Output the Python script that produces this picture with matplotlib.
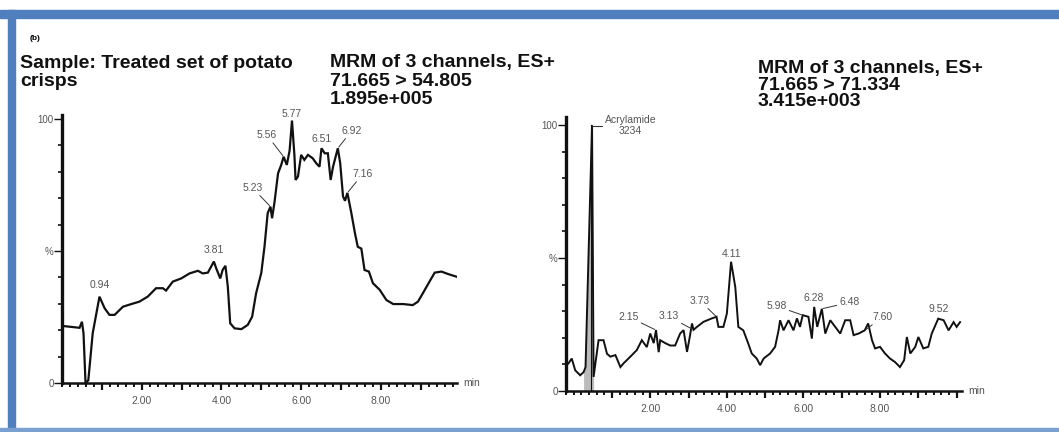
import matplotlib.pyplot as plt
from matplotlib.patches import Rectangle
from matplotlib.ticker import FixedLocator, MultipleLocator, NullFormatter

plt.rcParams['font.family'] = ['Liberation Sans', 'DejaVu Sans']

# channel 71.665 > 54.805 (retention time in min, relative intensity in %)
rt_a = [0.02, 0.44, 0.50, 0.54, 0.59, 0.66, 0.77, 0.94, 1.07, 1.19, 1.32, 1.53,
        1.74, 1.94, 2.15, 2.36, 2.53, 2.61, 2.78, 2.99, 3.20, 3.41, 3.53, 3.66,
        3.81, 3.87, 3.97, 4.03, 4.10, 4.16, 4.22, 4.33, 4.50, 4.66, 4.77, 4.87,
        5.00, 5.08, 5.16, 5.23, 5.27, 5.33, 5.42, 5.50, 5.56, 5.64, 5.71, 5.77,
        5.83, 5.86, 5.92, 6.00, 6.08, 6.17, 6.29, 6.38, 6.46, 6.51, 6.59, 6.67,
        6.74, 6.80, 6.92, 6.98, 7.05, 7.10, 7.16, 7.26, 7.35, 7.42, 7.51, 7.59,
        7.70, 7.80, 7.97, 8.14, 8.31, 8.56, 8.80, 8.93, 9.05, 9.22, 9.35, 9.52,
        9.68, 9.89]
int_a = [21.6, 20.9, 23.2, 18.8, 0.0, 1.0, 18.8, 32.7, 28.3, 25.8, 25.8, 28.9,
         29.9, 30.8, 32.7, 35.9, 35.9, 35.0, 38.4, 39.6, 41.5, 42.5, 41.5, 41.8,
         46.0, 43.4, 39.6, 42.8, 44.4, 36.5, 22.6, 20.7, 20.4, 22.0, 25.1, 34.0,
         41.7, 51.6, 64.3, 66.8, 62.4, 68.3, 79.4, 82.6, 85.7, 82.6, 88.0, 99.4,
         86.5, 76.9, 78.2, 86.4, 84.5, 86.4, 85.1, 83.2, 81.9, 88.9, 87.0, 87.0,
         76.9, 81.9, 88.9, 83.2, 70.7, 69.0, 72.0, 64.3, 56.7, 51.6, 50.9, 42.8,
         42.2, 37.8, 35.3, 31.4, 29.9, 29.9, 29.5, 30.8, 33.9, 38.4, 41.8, 42.2,
         41.3, 40.3]
peaks_a = [0.94, 3.81, 5.23, 5.56, 5.77, 6.51, 6.92, 7.16]

# channel 71.665 > 71.334
rt_b = [-0.14, -0.05, 0.04, 0.17, 0.26, 0.31, 0.48, 0.52, 0.65, 0.78, 0.87,
        0.96, 1.09, 1.22, 1.31, 1.48, 1.65, 1.78, 1.91, 2.00, 2.09, 2.15, 2.22,
        2.26, 2.39, 2.52, 2.65, 2.78, 2.87, 2.96, 3.04, 3.09, 3.13, 3.22, 3.39,
        3.61, 3.73, 3.78, 3.91, 4.00, 4.11, 4.22, 4.30, 4.43, 4.56, 4.65, 4.78,
        4.87, 4.96, 5.13, 5.26, 5.35, 5.39, 5.48, 5.61, 5.74, 5.83, 5.91, 5.98,
        6.13, 6.22, 6.28, 6.36, 6.48, 6.57, 6.70, 6.83, 6.96, 7.09, 7.22, 7.31,
        7.44, 7.60, 7.69, 7.79, 7.87, 8.00, 8.13, 8.26, 8.39, 8.52, 8.63, 8.70,
        8.79, 8.92, 9.00, 9.13, 9.26, 9.35, 9.52, 9.66, 9.79, 9.92, 10.00, 10.09]
int_b = [10.3, 12.2, 7.8, 5.9, 7.1, 9.0, 100.0, 5.3, 19.1, 19.1, 14.0, 12.9,
         13.5, 9.0, 10.5, 12.9, 15.4, 19.1, 16.5, 21.6, 18.0, 22.9, 14.6, 19.1,
         18.0, 17.1, 17.1, 21.6, 22.9, 14.7, 21.0, 25.4, 23.0, 24.1, 26.0, 27.3,
         27.9, 24.1, 24.1, 29.1, 48.6, 39.1, 24.1, 22.8, 17.8, 14.1, 12.2, 9.7,
         12.2, 14.1, 16.6, 22.8, 26.6, 22.8, 26.6, 22.8, 27.3, 24.1, 28.5, 27.9,
         19.7, 31.6, 24.1, 30.9, 21.6, 26.6, 24.1, 21.6, 26.6, 26.6, 21.0, 21.6,
         22.8, 25.4, 19.1, 16.0, 16.6, 14.1, 12.2, 10.9, 9.0, 11.6, 20.3, 14.1,
         16.6, 20.3, 16.0, 16.6, 21.6, 27.2, 26.6, 22.8, 25.9, 24.1, 25.9]
peaks_b = [2.15, 3.13, 3.73, 4.11, 5.98, 6.28, 6.48, 7.60, 9.52]
main_peak_rt = 0.48
main_peak_area = 3234

INK = '#111111'
LABEL = '#555555'
FRAME = '#4f7fbd'
W, H = 1059, 432


def height_at(rt, times, values):
    return values[min(range(len(times)), key=lambda i: abs(times[i] - rt))]


def style_axis(ax, xlim, ylim):
    ax.set_xlim(*xlim)
    ax.set_ylim(*ylim)
    for side in ('top', 'right'):
        ax.spines[side].set_visible(False)
    ax.spines['left'].set_linewidth(2.4)
    ax.spines['bottom'].set_linewidth(1.8)
    ax.spines['left'].set_color(INK)
    ax.spines['bottom'].set_color(INK)
    ax.set_facecolor('none')

    ax.yaxis.set_major_locator(FixedLocator([0, 50, 100]))
    ax.yaxis.set_minor_locator(MultipleLocator(10))
    ax.set_yticklabels(['0', '%', '100'])
    ax.tick_params(axis='y', which='major', length=6, width=1.0, color=INK,
                   labelsize=7, labelcolor=LABEL, pad=0)
    ax.tick_params(axis='y', which='minor', length=3, width=1.2, color=INK)

    ax.xaxis.set_major_locator(FixedLocator(range(1, 11)))
    ax.xaxis.set_minor_locator(MultipleLocator(0.2))
    ax.xaxis.set_minor_formatter(NullFormatter())
    ax.set_xticklabels(['%.2f' % t if t in (2, 4, 6, 8) else '' for t in range(1, 11)])
    ax.tick_params(axis='x', which='major', length=5, width=1.6, color=INK,
                   labelsize=7.5, labelcolor=LABEL, pad=4)
    ax.tick_params(axis='x', which='minor', length=3, width=1.4, color=INK)
    ax.text(1.015, 0, 'min', transform=ax.transAxes, fontsize=7.5,
            color=LABEL, va='center', ha='left')


def label_peak(ax, rt, y, dx=0, dy=6, leader=False):
    props = dict(arrowstyle='-', color='#333333', lw=0.7, shrinkA=0, shrinkB=1) if leader else None
    ax.annotate('%.2f' % rt, xy=(rt, y), xytext=(dx, dy), textcoords='offset points',
                ha='center', va='bottom', fontsize=7.5, color=LABEL, arrowprops=props)


def header(x, ys, lines):
    for y, line in zip(ys, lines):
        fig.text(x / W, 1 - y / H, line, fontsize=14, fontweight='bold',
                 va='center', ha='left', color=INK)


fig = plt.figure(figsize=(W / 100, H / 100), dpi=100)

# slide frame
fig.patches.append(Rectangle((0, 1 - 18 / H), 1, 8 / H, transform=fig.transFigure,
                             color=FRAME, zorder=0))
fig.patches.append(Rectangle((8 / W, 0), 7 / W, 1 - 10 / H, transform=fig.transFigure,
                             color=FRAME, zorder=0))
fig.patches.append(Rectangle((0, 1 / H), 1, 3 / H, transform=fig.transFigure,
                             color='#7aa0d0', zorder=0))

# header
fig.text(30 / W, 1 - 38 / H, '(b)', fontsize=6, fontweight='bold', va='center')
header(20, [63, 82], ['Sample: Treated set of potato', 'crisps'])
header(330, [63, 82, 100], ['MRM of 3 channels, ES+', '71.665 > 54.805', '1.895e+005'])
header(758, [68, 86, 102], ['MRM of 3 channels, ES+', '71.665 > 71.334', '3.415e+003'])

# left trace
ax1 = fig.add_axes([62 / W, 49 / H, 395 / W, 268 / H])
style_axis(ax1, (0, 9.91), (0, 101.5))
ax1.plot(rt_a, int_a, color=INK, lw=1.6, solid_joinstyle='miter')
offsets_a = {0.94: (0, 5, False), 3.81: (0, 5, False), 5.23: (-13, 10, True),
             5.56: (-12, 12, True), 5.77: (0, 1, False), 6.51: (0, 3, False),
             6.92: (10, 9, True), 7.16: (11, 10, True)}
for rt in peaks_a:
    dx, dy, lead = offsets_a[rt]
    label_peak(ax1, rt, height_at(rt, rt_a, int_a), dx, dy, lead)

# right trace
ax2 = fig.add_axes([566 / W, 41 / H, 396 / W, 274 / H])
style_axis(ax2, (-0.2, 10.14), (0, 103))
ax2.fill_between(rt_b[4:8], int_b[4:8], color='#bbbbbb', lw=0)
ax2.plot(rt_b, int_b, color=INK, lw=1.4, solid_joinstyle='miter')
ax2.plot([main_peak_rt - 0.04] * 2, [0, 100], color=INK, lw=0.8)
ax2.annotate('Acrylamide\n%d' % main_peak_area, xy=(main_peak_rt, 100), xytext=(9, -8),
             textcoords='offset points', ha='left', va='bottom', fontsize=7.5,
             color=LABEL, multialignment='center', linespacing=1.1,
             arrowprops=dict(arrowstyle='-', color='#333333', lw=0.8,
                             connectionstyle='angle,angleA=0,angleB=90', shrinkA=0, shrinkB=0))
offsets_b = {2.15: (-20, 6, True), 3.13: (-18, 6, True), 3.73: (-12, 8, True),
             4.11: (0, 2, False), 5.98: (-19, 3, True), 6.28: (0, 3, False),
             6.48: (20, 1, True), 7.60: (13, 6, True), 9.52: (0, 3, False)}
for rt in peaks_b:
    dx, dy, lead = offsets_b[rt]
    label_peak(ax2, rt, height_at(rt, rt_b, int_b), dx, dy, lead)

fig.savefig('out.png', dpi=100, facecolor='white')
